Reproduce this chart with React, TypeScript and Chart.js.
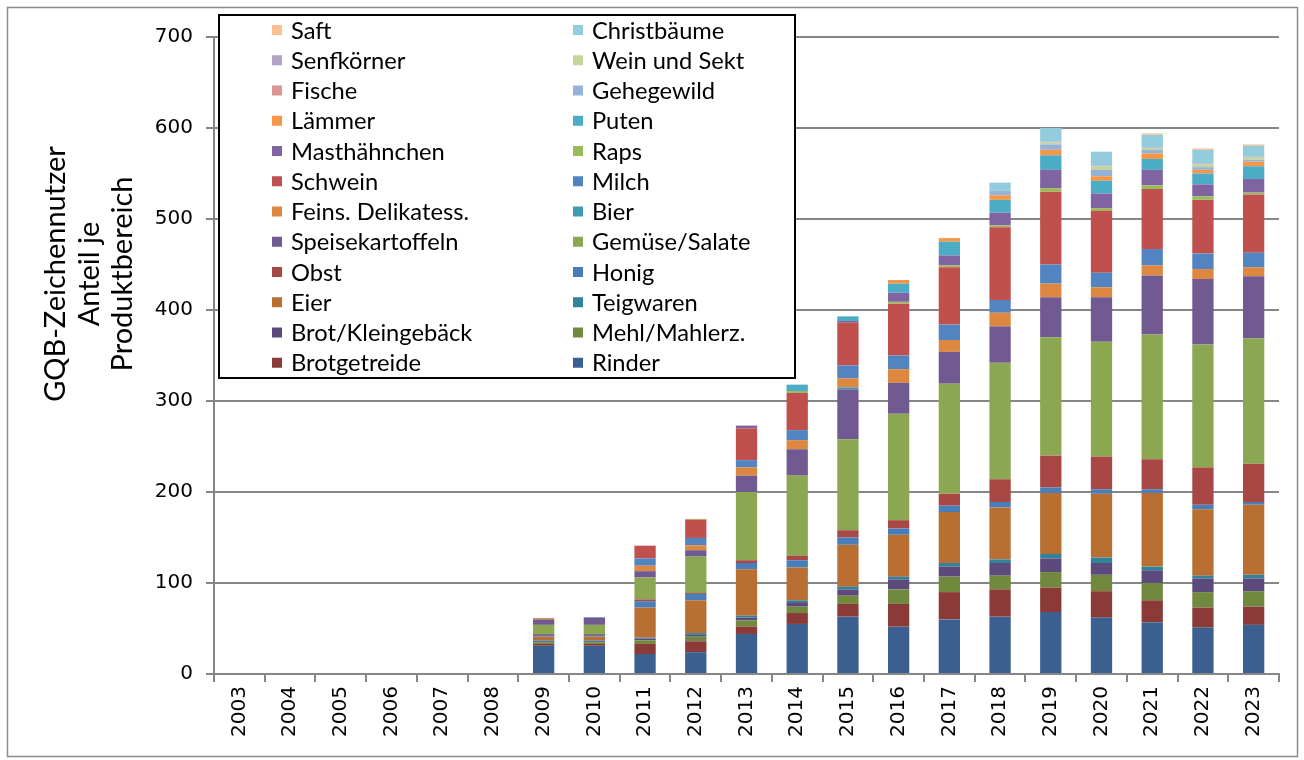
import { useEffect, useRef } from "react";
import { Chart, registerables } from "chart.js";

Chart.register(...registerables);

const years = ["2003","2004","2005","2006","2007","2008","2009","2010","2011","2012","2013","2014","2015","2016","2017","2018","2019","2020","2021","2022","2023"];
const yTicks = [0, 100, 200, 300, 400, 500, 600, 700];
const yTitle = ["GQB-Zeichennutzer", "Anteil je", "Produktbereich"];

// values per year 2003..2023
const rinder =           [0,0,0,0,0,0,31,31,22,24,44,55,63,52,60,63,68,62,57,51,54];
const brotgetreide =     [0,0,0,0,0,0,2,2,11,12,8,12,14,25,30,30,27,29,24,22,20];
const mehl =             [0,0,0,0,0,0,2,2,4,5,7,7,9,16,17,15,17,18,19,17,17];
const brotKlein =        [0,0,0,0,0,0,1,1,2,2,3,5,7,11,11,14,15,13,14,15,14];
const teigwaren =        [0,0,0,0,0,0,1,1,1,2,2,2,3,3,4,4,5,6,4,3,4];
const eier =             [0,0,0,0,0,0,4,4,33,36,51,36,46,46,56,57,67,70,81,73,77];
const honig =            [0,0,0,0,0,0,2,2,7,7,7,8,8,7,7,6,6,5,4,5,3];
const obst =             [0,0,0,0,0,0,1,1,2,1,3,5,8,9,13,25,35,36,33,41,42];
const gemuese =          [0,0,0,0,0,0,10,10,24,40,75,88,100,117,121,128,130,126,137,135,138];
const kartoffeln =       [0,0,0,0,0,0,6,8,7,7,18,29,55,34,35,40,44,49,65,72,68];
const bier =             [0,0,0,0,0,0,0,0.5,0,0,0,0,2,0,0,0,0,0,0,0,0];
const delikatess =       [0,0,0,0,0,0,1.5,0,6,5.5,9,10,10,15,13,15,15,11,11,11,10];
const milch =            [0,0,0,0,0,0,0,0,8,8,8,11,14,15,17,14,21,16,18,17,16];
const schwein =          [0,0,0,0,0,0,0,0,14,20,35,41,47,57,63,80,80,68,66,59,64];
const raps =             [0,0,0,0,0,0,0,0,0,1,0,2,0,2,2,2,4,3,4,4,2];
const masthaehnchen =    [0,0,0,0,0,0,0,0,0,0,3,0,2,10,11,14,20,16,17,13,15];
const puten =            [0,0,0,0,0,0,0,0,0,0,0,7,5,10,15,14,16,14,12,12,14];
const laemmer =          [0,0,0,0,0,0,0,0,0,0,0,0,0,4,4,5,6,5,6,4,5];
const gehegewild =       [0,0,0,0,0,0,0,0,0,0,0,0,0,0,0,5,6,7,4,3,2];
const fische =           [0,0,0,0,0,0,0,0,0,0,0,0,0,0,0,0,0,0,0,0,0];
const weinSekt =         [0,0,0,0,0,0,0,0,0,0,0,0,0,0,0,0,2,4,2,3,2.5];
const senfkoerner =      [0,0,0,0,0,0,0,0,0,0,0,0,0,0,0,0,1,1,0.5,1,1];
const christbaeume =     [0,0,0,0,0,0,0,0,0,0,0,0,0,0,0,9,15,15,14,15,12];
const saft =             [0,0,0,0,0,0,0,0,0,0,0,0,0,0,0,0,0,0,1.5,1.5,1.5];

const series: [string, number[], string][] = [
  ["Rinder", rinder, "#3B6090"],
  ["Brotgetreide", brotgetreide, "#8C3A38"],
  ["Mehl/Mahlerz.", mehl, "#71893F"],
  ["Brot/Kleingebäck", brotKlein, "#5C4A7D"],
  ["Teigwaren", teigwaren, "#31839A"],
  ["Eier", eier, "#B96F32"],
  ["Honig", honig, "#4A7EBB"],
  ["Obst", obst, "#A84744"],
  ["Gemüse/Salate", gemuese, "#8CA752"],
  ["Speisekartoffeln", kartoffeln, "#715A91"],
  ["Bier", bier, "#3E9AB3"],
  ["Feins. Delikatess.", delikatess, "#DE8740"],
  ["Milch", milch, "#5284C2"],
  ["Schwein", schwein, "#C0504D"],
  ["Raps", raps, "#9BBB59"],
  ["Masthähnchen", masthaehnchen, "#8064A2"],
  ["Puten", puten, "#4BACC6"],
  ["Lämmer", laemmer, "#F79646"],
  ["Gehegewild", gehegewild, "#95B3D7"],
  ["Fische", fische, "#D99694"],
  ["Wein und Sekt", weinSekt, "#C3D69B"],
  ["Senfkörner", senfkoerner, "#B3A2C7"],
  ["Christbäume", christbaeume, "#93CDDD"],
  ["Saft", saft, "#FAC090"],
];

const GRID = "#868686";
const TICK_FONT = "'DejaVu Sans', Verdana, sans-serif";
const TEXT_FONT = "Lato, 'Open Sans', sans-serif";

const decorPlugin = {
  id: "decor",
  afterDraw(chart: any) {
    const ctx = chart.ctx as CanvasRenderingContext2D;
    ctx.save();
    // outer frame
    ctx.strokeStyle = "#8C8C8C";
    ctx.lineWidth = 1.5;
    ctx.strokeRect(7.5, 7.5, 1290, 749);

    // y axis title
    ctx.fillStyle = "#000";
    ctx.font = `29px ${TEXT_FONT}`;
    ctx.textAlign = "center";
    ctx.textBaseline = "middle";
    const xs = [56, 90, 123];
    yTitle.forEach((t, i) => {
      ctx.save();
      ctx.translate(xs[i], 274);
      ctx.rotate(-Math.PI / 2);
      ctx.fillText(t, 0, 0);
      ctx.restore();
    });

    // legend
    const lx = 219, ly = 15, lw = 576, lh = 363;
    ctx.fillStyle = "#fff";
    ctx.fillRect(lx, ly, lw, lh);
    ctx.strokeStyle = "#000";
    ctx.lineWidth = 2;
    ctx.strokeRect(lx, ly, lw, lh);
    const ds = chart.data.datasets.slice().reverse();
    ctx.font = `23.7px ${TEXT_FONT}`;
    ctx.textAlign = "left";
    ctx.textBaseline = "middle";
    ds.forEach((d: any, k: number) => {
      const row = Math.floor(k / 2);
      const col = k % 2;
      const sx = col === 0 ? 272 : 573;
      const cy = 30 + row * 30.25;
      ctx.fillStyle = d.backgroundColor;
      ctx.fillRect(sx, cy - 5, 10, 10);
      ctx.fillStyle = "#000";
      ctx.fillText(d.label, sx + 19, cy + 1);
    });
    ctx.restore();
  },
};

export default function App() {
  const ref = useRef<HTMLCanvasElement | null>(null);
  useEffect(() => {
    if (!ref.current) return;
    const chart = new Chart(ref.current, {
      type: "bar",
      data: {
        labels: years,
        datasets: series.map(([label, data, color]) => ({
          label,
          data,
          backgroundColor: color,
          borderWidth: 0,
          barPercentage: 0.42,
          categoryPercentage: 1,
        })),
      },
      options: {
        responsive: false,
        animation: false,
        layout: { padding: { top: 37, right: 25, bottom: 0, left: 0 } },
        plugins: { legend: { display: false }, tooltip: { enabled: false } },
        scales: {
          x: {
            stacked: true,
            offset: true,
            grid: { display: true, drawOnChartArea: false, drawTicks: true, tickLength: 8, color: GRID, lineWidth: 2, offset: true },
            border: { display: true, color: GRID, width: 2 },
            ticks: { font: { family: TICK_FONT, size: 20 }, color: "#000", maxRotation: 90, minRotation: 90, padding: 4, autoSkip: false },
            afterFit: (s: any) => { s.height = 86; },
          },
          y: {
            stacked: true,
            min: 0,
            max: 700,
            afterBuildTicks: (s: any) => { s.ticks = yTicks.map((v) => ({ value: v })); },
            grid: { color: GRID, lineWidth: 2, tickLength: 8, drawTicks: true },
            border: { display: true, color: GRID, width: 2 },
            ticks: { font: { family: TICK_FONT, size: 20 }, color: "#000", padding: 13 },
            afterFit: (s: any) => { s.width = 214; },
          },
        },
      },
      plugins: [decorPlugin],
    });
    return () => chart.destroy();
  }, []);
  return (
    <div style={{ position: "absolute", left: 0, top: 0, width: 1304, height: 760, background: "#fff" }}>
      <canvas ref={ref} width={1304} height={760} />
    </div>
  );
}
